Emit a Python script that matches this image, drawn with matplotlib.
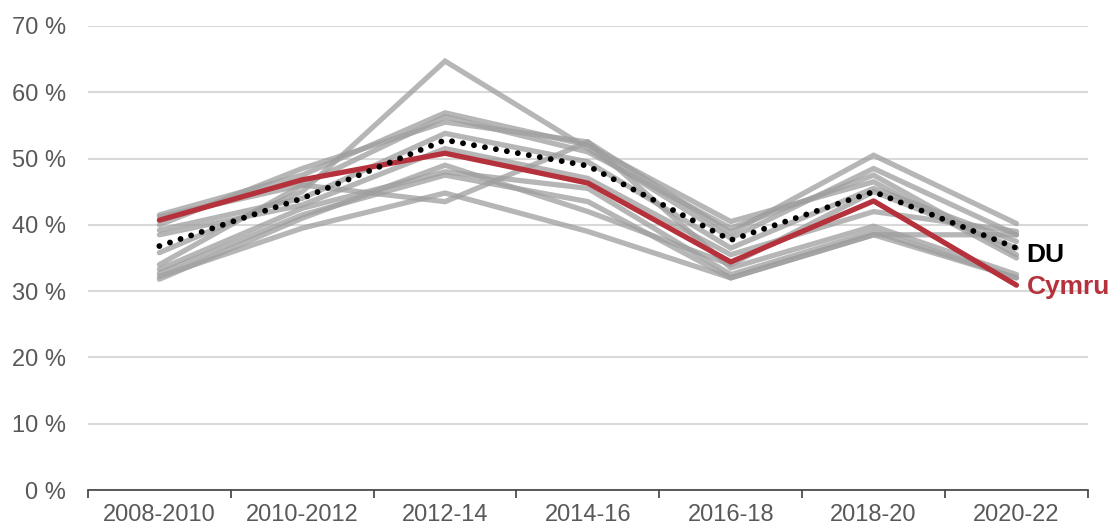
import matplotlib
matplotlib.use("Agg")
import matplotlib.pyplot as plt
import numpy as np

plt.rcParams['font.family'] = ['Liberation Sans', 'DejaVu Sans']

categories = ["2008-2010", "2010-2012", "2012-14", "2014-16", "2016-18", "2018-20", "2020-22"]

grey_series = [
    [35.8, 45.0, 64.7, 51.5, 38.0, 48.5, 38.5],
    [41.5, 47.5, 56.9, 52.0, 40.5, 46.5, 35.0],
    [41.2, 46.0, 56.3, 51.0, 39.5, 47.5, 35.5],
    [40.0, 48.5, 55.5, 52.5, 38.8, 50.5, 40.2],
    [39.2, 44.0, 53.8, 49.5, 36.5, 45.5, 37.5],
    [38.5, 43.0, 51.5, 47.0, 35.5, 42.0, 39.0],
    [34.0, 46.0, 43.5, 52.5, 33.5, 39.8, 32.5],
    [33.3, 42.5, 48.0, 45.5, 32.5, 39.0, 32.0],
    [32.7, 41.5, 47.5, 43.5, 32.0, 38.5, 38.5],
    [32.2, 39.5, 44.8, 39.0, 32.0, 38.5, 32.0],
    [31.8, 41.0, 49.0, 42.0, 34.0, 45.0, 36.5],
]
du = [36.8, 44.0, 52.8, 48.9, 37.7, 45.0, 36.5]
cymru = [40.7, 46.8, 50.8, 46.3, 34.4, 43.6, 30.9]

fig = plt.figure(figsize=(11.19, 5.27), dpi=100)
ax = fig.add_axes([0.0786, 0.0702, 0.8936, 0.8805])

x = np.arange(len(categories))
for s in grey_series:
    ax.plot(x, s, color='#9e9e9e', alpha=0.75, lw=3.8, solid_capstyle='round', solid_joinstyle='miter', zorder=2)
ax.plot(x, cymru, color='#b5323c', lw=3.8, solid_capstyle='round', zorder=4)
ax.plot(x, du, color='black', lw=4.2, linestyle=(0, (0.01, 1.9)), dash_capstyle='round', zorder=5)

ax.text(x[-1] + 0.07, du[-1] - 1.1, "DU", color='black', fontsize=19, fontweight='bold', va='center', ha='left')
ax.text(x[-1] + 0.07, cymru[-1] - 0.3, "Cymru", color='#b5323c', fontsize=19, fontweight='bold', va='center', ha='left')

ax.set_xlim(-0.5, len(categories) - 0.5)
ax.set_ylim(0, 70)
ax.set_yticks(np.arange(0, 71, 10))
ax.set_yticklabels([f"{v} %" for v in range(0, 71, 10)])
ax.yaxis.grid(True, color='#d9d9d9', lw=1.5)
ax.set_axisbelow(True)
ax.tick_params(axis='y', length=0, labelsize=17, labelcolor='#595959', pad=16)

ax.set_xticks(x)
ax.set_xticklabels(categories)
ax.set_xticks(np.arange(-0.5, len(categories), 1), minor=True)
ax.tick_params(axis='x', which='major', length=0, labelsize=17, labelcolor='#595959', pad=10)
ax.tick_params(axis='x', which='minor', length=6, width=1.2, color='#404040')

for sp in ['left', 'right', 'top']:
    ax.spines[sp].set_visible(False)
ax.spines['bottom'].set_color('#404040')
ax.spines['bottom'].set_linewidth(1.2)

fig.savefig("out.png", dpi=100)
